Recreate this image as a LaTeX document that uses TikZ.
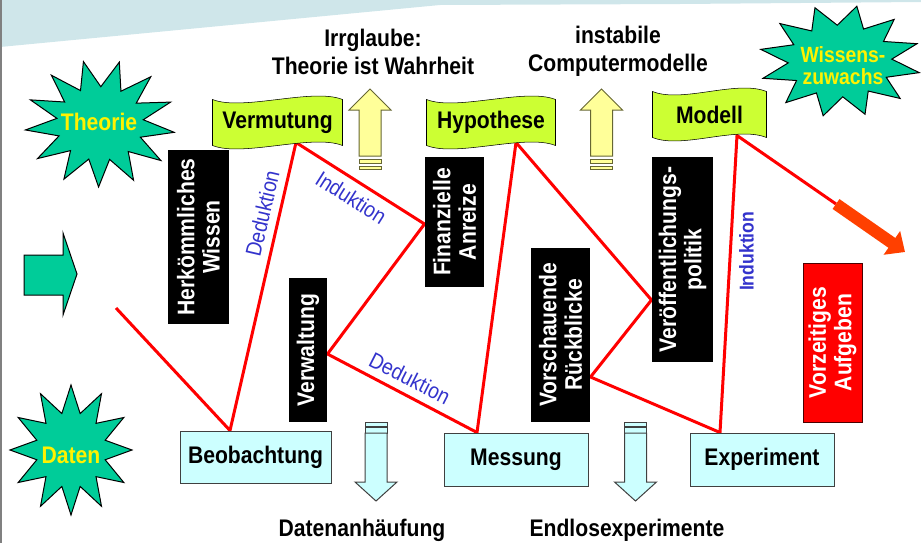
\documentclass[tikz,border=0pt]{standalone}
\usepackage{fontspec}
\setmainfont{Liberation Sans}[FakeStretch=0.88]
\usetikzlibrary{calc,arrows.meta,backgrounds}

\definecolor{burstgreen}{RGB}{0,204,153}
\definecolor{flaggreen}{RGB}{204,255,51}
\definecolor{paleyellow}{RGB}{255,255,153}
\definecolor{palecyan}{RGB}{204,255,255}
\definecolor{labelblue}{RGB}{51,51,204}
\definecolor{gainorange}{RGB}{255,64,0}
\definecolor{bandblue}{RGB}{207,230,234}
\definecolor{edgegray}{RGB}{64,64,64}
\definecolor{olivegray}{RGB}{102,102,51}

\tikzset{every picture/.style={line width=0.75pt}}
\tikzset{
  bigfont/.style={font=\fontsize{18}{19}\selectfont\bfseries},
  blackbox/.style={bigfont, fill=black, text=white, rotate=90, align=center, inner sep=0pt},
  stopbox/.style={blackbox, fill=red, draw=black!70!red},
  databox/.style={bigfont, fill=palecyan, draw=edgegray, inner sep=0pt},
  flagbox/.style={bigfont, inner sep=0pt},
  caption/.style={font=\fontsize{18}{21}\selectfont\bfseries, align=center},
  bursttext/.style={bigfont, text=yellow, align=center},
  burst/.style={fill=burstgreen, draw=black},
  flagfill/.style={fill=flaggreen, draw=black},
  uparrow/.style={fill=paleyellow, draw=olivegray},
  downarrow/.style={fill=palecyan, draw=edgegray},
  redline/.style={draw=red, line width=2.25pt},
  steplabel/.style={text=labelblue, font=\fontsize{16.5}{16.5}\selectfont, inner sep=5.5pt},
}

\begin{document}
\begin{tikzpicture}[x=0.75pt,y=0.75pt,yscale=-1,xscale=1]
\useasboundingbox (0,0) rectangle (921,543);

%Starbursts
\foreach \cx/\cy/\rx/\ry/\np/\ns/\rot/\ri in {100/123.5/75/63.5/13/27/8/0.58, 71/450/61/65/12/25/0/0.58, 840/61/81/56/12/25/12/0.64}
  \draw[burst] plot[domain=0:360, samples=\ns] ({\cx+\rx*((1+\ri)/2+(1-\ri)/2*cos(\np*\x))*cos(\x+\rot)}, {\cy+\ry*((1+\ri)/2+(1-\ri)/2*cos(\np*\x))*sin(\x+\rot)}) -- cycle;

%Green block arrow
\draw[burst] (24,255) -- (63,255) -- (63,233) -- (77,274) -- (63,315) -- (63,295) -- (24,295) -- cycle;

%Up arrows
\foreach \ax in {370,601.5} {
  \draw[uparrow] (\ax-11,156) -- (\ax-11,110) -- (\ax-21,110) -- (\ax,89) -- (\ax+21,110) -- (\ax+11,110) -- (\ax+11,156) -- cycle;
  \draw[uparrow] (\ax-11,159.5) rectangle (\ax+11,163);
  \draw[uparrow] (\ax-11,166) rectangle (\ax+11,169);
}

%Down arrows
\foreach \ax in {376,635.5} {
  \draw[downarrow] (\ax-11,422) rectangle (\ax+11,426);
  \draw[downarrow] (\ax-11,427.5) rectangle (\ax+11,433);
  \draw[downarrow] (\ax-11,433) -- (\ax-11,482) -- (\ax-21,482) -- (\ax,501) -- (\ax+21,482) -- (\ax+11,482) -- (\ax+11,433) -- cycle;
}

% Text Nodes
\node[bursttext] (theo) at (99,122) {Theorie};
\node[bursttext] (dat) at (71,455) {Daten};
\node[bursttext, font=\fontsize{16.5}{16.5}\selectfont\bfseries] (wiss) at (843,66) {Wissens-\\zuwachs};

\node[caption] (irr) at (373,51.5) {Irrglaube:\\Theorie ist Wahrheit};
\node[caption] (inst) at (618,51.5) {instabile\\Computermodelle};
\node[caption] (dath) at (362,530) {Datenanhäufung};
\node[caption] (endl) at (627,530) {Endlosexperimente};

\node[flagbox, minimum width=96.75pt, minimum height=33.75pt] (verm) at (277.5,122.5) {Vermutung};
\node[flagbox, minimum width=96pt, minimum height=33.75pt] (hypo) at (491,122.5) {Hypothese};
\node[flagbox, minimum width=84.75pt, minimum height=33.75pt] (mod) at (709.5,114.5) {Modell};

\node[blackbox, minimum width=130.5pt, minimum height=45.75pt] (herk) at (198.5,237) {Herkömmliches\\Wissen};
\node[blackbox, minimum width=108pt, minimum height=28.5pt] (verw) at (308,350) {Verwaltung};
\node[blackbox, minimum width=97.5pt, minimum height=44.25pt] (fin) at (454.5,222) {Finanzielle\\Anreize};
\node[blackbox, minimum width=130.5pt, minimum height=44.25pt] (vor) at (560.5,335) {Vorschauende\\Rückblicke};
\node[blackbox, minimum width=153.75pt, minimum height=45.75pt] (ver) at (682.5,259.5) {Veröffentlichungs-\\politik};
\node[stopbox, minimum width=119.25pt, minimum height=44.25pt] (aufg) at (832.5,342.5) {Vorzeitiges\\Aufgeben};

\node[databox, minimum width=113.25pt, minimum height=39pt] (beob) at (255.5,457) {Beobachtung};
\node[databox, minimum width=108pt, minimum height=39.75pt] (mess) at (516,459.5) {Messung};
\node[databox, minimum width=108pt, minimum height=39.75pt] (exp) at (762,459.5) {Experiment};

\coordinate (start) at (116,308);
\coordinate (kink) at (836,204);
\coordinate (gain) at (905,252);

\begin{pgfonlayer}{background}
%Title band and border
\fill[bandblue] (0,0) -- (921,0) -- (921,2) -- (680,4) -- (440,5) -- (0,47) -- cycle;
\draw[gray, line width=1.5pt] (1,0) -- (1,543);

%Zigzag
\draw[redline] (start) -- ($(beob.north)+(-25.5,0)$)
  -- node[steplabel, pos=0.74, rotate=77, anchor=south] {Deduktion} ($(verm.south)+(18.5,-3)$)
  -- node[steplabel, pos=0.5, rotate=-32.4, anchor=north] {Induktion} ($(fin.north)+(0,2)$)
  -- ($(verw.south)+(0,4)$)
  -- node[steplabel, pos=0.5, rotate=-26.9, anchor=south] {Deduktion} ($(mess.north)+(-39,0)$)
  -- ($(hypo.south)+(25,-3)$)
  -- ($(ver.north)+(0,40.5)$)
  -- ($(vor.south)+(0,42)$)
  -- ($(exp.north)+(-42,0)$)
  -- node[steplabel, font=\fontsize{15}{15}\selectfont\bfseries, pos=0.61, rotate=90, anchor=north] {Induktion} ($(mod.south)+(27.5,-2)$)
  -- (kink);

%Flags
\foreach \f in {verm,hypo,mod}
  \draw[flagfill] (\f.north west) .. controls +(30,12) and +(-30,-12) .. (\f.north east) -- (\f.south east) .. controls +(-30,-12) and +(30,12) .. (\f.south west) -- cycle;
\end{pgfonlayer}

\draw[gainorange, line width=9pt, -{Triangle[width=21pt,length=12pt]}] (kink) -- (gain);

\end{tikzpicture}
\end{document}
